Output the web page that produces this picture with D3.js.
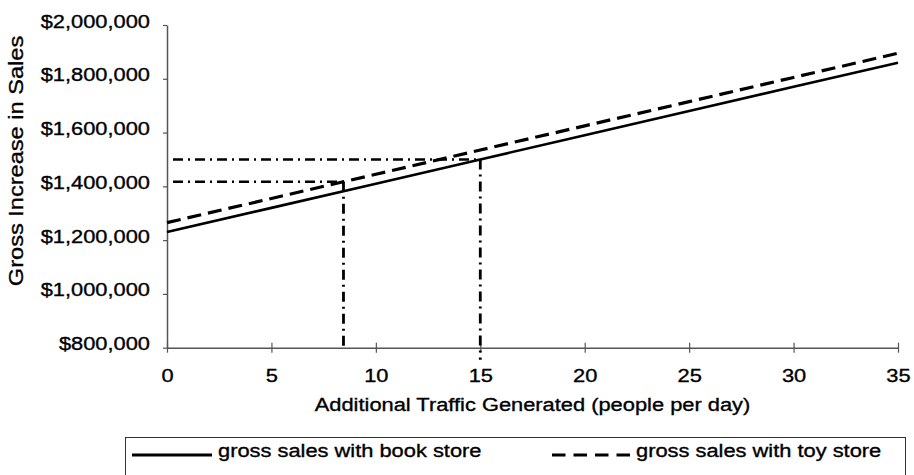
<!DOCTYPE html>
<html>
<head>
<meta charset="utf-8">
<script src="https://cdn.jsdelivr.net/npm/d3@7"></script>
<style>
  body { margin: 0; background: #fff; }
  svg { display: block; }
  text { font-family: "Liberation Sans", Arial, sans-serif; fill: #000; stroke: #000; stroke-width: 0.35px; }
</style>
</head>
<body>
<div id="chart"></div>
<script>
// Data
const traffic = [0, 5, 10, 15, 20, 25, 30, 35];
const bookSales = [1230000, 1320000, 1410000, 1500000, 1590000, 1680000, 1770000, 1860000];
const toySales = [1265000, 1355000, 1445000, 1535000, 1625000, 1715000, 1805000, 1895000];
const yTicks = [800000, 1000000, 1200000, 1400000, 1600000, 1800000, 2000000];
const xTicks = [0, 5, 10, 15, 20, 25, 30, 35];
// break-even guide points (traffic, sales)
const guideTraffic = [8.45, 15];
const guideSales = [1417000, 1500000];
const seriesNames = ['gross sales with book store', 'gross sales with toy store'];

const width = 914, height = 475;
const stretch = 1.15; // the original font is drawn wide

const svg = d3.select('#chart')
    .append('svg')
    .attr('width', width)
    .attr('height', height);

const x = d3.scaleLinear().domain([0, 35]).range([167, 898]);
const y = d3.scaleLinear().domain([800000, 2000000]).range([347.7, 25]);

// Y axis
const yAxis = svg.append('g')
    .attr('transform', `translate(${x(0)},0)`)
    .call(d3.axisLeft(y)
        .tickValues(yTicks)
        .tickSize(4)
        .tickSizeOuter(0)
        .tickPadding(13)
        .tickFormat(d => '$' + d3.format(',')(d)));

yAxis.select('.domain').attr('stroke', '#555').attr('stroke-width', 1.5);
yAxis.selectAll('.tick line').attr('stroke', '#555').attr('stroke-width', 1.2);
yAxis.selectAll('.tick text')
    .attr('dy', null)
    .attr('x', null)
    .attr('transform', `translate(-17,2) scale(${stretch},1)`)
    .style('font-size', '19px');

// X axis
const xAxis = svg.append('g')
    .attr('transform', `translate(0,${y(800000)})`)
    .call(d3.axisBottom(x)
        .tickValues(xTicks)
        .tickSize(5)
        .tickSizeOuter(0)
        .tickFormat(d3.format('d')));

xAxis.select('.domain').attr('stroke', '#555').attr('stroke-width', 1.5);
xAxis.selectAll('.tick line').attr('y1', -5).attr('stroke', '#555').attr('stroke-width', 1.2);
xAxis.selectAll('.tick text')
    .attr('dy', null)
    .attr('y', null)
    .attr('transform', `translate(0,34) scale(${stretch},1)`)
    .style('font-size', '19px');

// Axis titles
svg.append('text')
    .attr('text-anchor', 'middle')
    .attr('transform', `translate(${(x(0) + x(35)) / 2},411) scale(${stretch},1)`)
    .style('font-size', '19px')
    .text('Additional Traffic Generated (people per day)');

svg.append('text')
    .attr('text-anchor', 'middle')
    .attr('transform', `translate(23,161) rotate(-90) scale(1.18,1)`)
    .style('font-size', '20px')
    .text('Gross Increase in Sales');

// Dash-dot break-even guides
const guides = svg.append('g')
    .attr('fill', 'none')
    .attr('stroke', '#000')
    .attr('stroke-dasharray', '10,5,2,5');

guideTraffic.forEach((t, i) => {
    guides.append('line')
        .attr('x1', x(0) + 6)
        .attr('x2', x(t))
        .attr('y1', y(guideSales[i]))
        .attr('y2', y(guideSales[i]))
        .attr('stroke-width', 2.4);
    guides.append('line')
        .attr('x1', x(t))
        .attr('x2', x(t))
        .attr('y1', y(guideSales[i]))
        .attr('y2', y(800000) + (i === 1 ? 12 : 2))
        .attr('stroke-width', 2.8);
});

// Sales lines
const line = d3.line()
    .x((d, i) => x(traffic[i]))
    .y(d => y(d));

svg.append('path')
    .datum(bookSales)
    .attr('d', line)
    .attr('fill', 'none')
    .attr('stroke', '#000')
    .attr('stroke-width', 2.6);

svg.append('path')
    .datum(toySales)
    .attr('d', line)
    .attr('fill', 'none')
    .attr('stroke', '#000')
    .attr('stroke-width', 3.2)
    .attr('stroke-dasharray', '14,7');

// Legend
const legend = svg.append('g');

legend.append('rect')
    .attr('x', 125.5)
    .attr('y', 437.5)
    .attr('width', 780)
    .attr('height', 60)
    .attr('fill', 'none')
    .attr('stroke', '#333')
    .attr('stroke-width', 1);

const legendItems = [
    { name: seriesNames[0], x1: 132, x2: 212, dash: null },
    { name: seriesNames[1], x1: 552, x2: 630, dash: '13.5,8' }
];

legendItems.forEach(d => {
    legend.append('line')
        .attr('x1', d.x1)
        .attr('x2', d.x2)
        .attr('y1', 455)
        .attr('y2', 455)
        .attr('stroke', '#000')
        .attr('stroke-width', 3)
        .attr('stroke-dasharray', d.dash);
    legend.append('text')
        .attr('transform', `translate(${d.x2 + 6},457) scale(${stretch},1)`)
        .style('font-size', '19px')
        .text(d.name);
});
</script>
</body>
</html>
